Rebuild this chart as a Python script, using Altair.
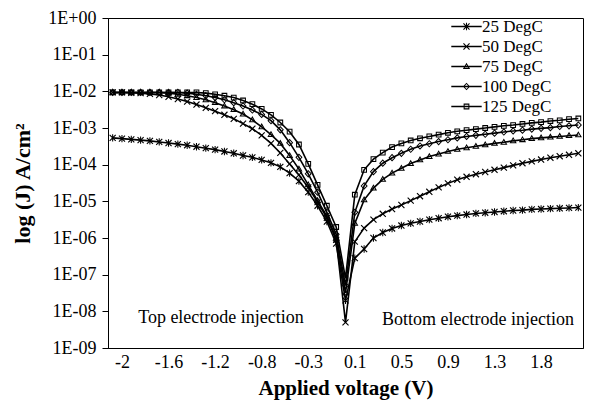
import json
import altair as alt
import pandas as pd

series_names = ["25 DegC", "50 DegC", "75 DegC", "100 DegC", "125 DegC"]

voltage = [-2.1, -2.016, -1.932, -1.848, -1.764, -1.68, -1.596, -1.512, -1.428, -1.344,
           -1.26, -1.176, -1.092, -1.008, -0.924, -0.84, -0.756, -0.672, -0.588, -0.504,
           -0.42, -0.336, -0.252, -0.168, -0.084, 0.0, 0.084, 0.168, 0.252, 0.336,
           0.42, 0.504, 0.588, 0.672, 0.756, 0.84, 0.924, 1.008, 1.092, 1.176,
           1.26, 1.344, 1.428, 1.512, 1.596, 1.68, 1.764, 1.848, 1.932, 2.016, 2.1]

# log10 of current density J (A/cm2)
log_j_25 = [-3.27, -3.29, -3.31, -3.33, -3.35, -3.38, -3.41, -3.44, -3.47, -3.51,
            -3.55, -3.59, -3.64, -3.69, -3.75, -3.80, -3.87, -3.95, -4.06, -4.23,
            -4.45, -4.75, -5.12, -5.55, -6.15, -7.70,
            -6.55, -6.30, -6.00, -5.85, -5.74, -5.66, -5.60, -5.55, -5.50, -5.46,
            -5.42, -5.39, -5.36, -5.33, -5.31, -5.29, -5.27, -5.25, -5.24, -5.22,
            -5.21, -5.20, -5.19, -5.18, -5.17]
log_j_50 = [-2.03, -2.03, -2.04, -2.05, -2.07, -2.10, -2.15, -2.21, -2.28, -2.36,
            -2.45, -2.54, -2.64, -2.75, -2.88, -3.02, -3.20, -3.42, -3.68, -3.98,
            -4.28, -4.62, -5.02, -5.45, -6.05, -8.30,
            -6.10, -5.73, -5.50, -5.34, -5.21, -5.10, -4.98, -4.86, -4.74, -4.62,
            -4.51, -4.41, -4.33, -4.26, -4.20, -4.14, -4.08, -4.02, -3.96, -3.91,
            -3.86, -3.81, -3.77, -3.73, -3.69]
log_j_75 = [-2.03, -2.03, -2.03, -2.03, -2.03, -2.03, -2.05, -2.08, -2.12, -2.17,
            -2.23, -2.31, -2.40, -2.50, -2.62, -2.78, -2.97, -3.18, -3.42, -3.75,
            -4.12, -4.55, -4.98, -5.40, -6.00, -7.50,
            -5.60, -4.96, -4.64, -4.40, -4.23, -4.10, -3.97, -3.87, -3.78, -3.71,
            -3.64, -3.58, -3.54, -3.50, -3.46, -3.42, -3.39, -3.35, -3.32, -3.29,
            -3.27, -3.25, -3.23, -3.21, -3.19]
log_j_100 = [-2.03, -2.03, -2.03, -2.03, -2.03, -2.03, -2.03, -2.03, -2.05, -2.08,
             -2.12, -2.17, -2.23, -2.31, -2.40, -2.51, -2.63, -2.80, -3.05, -3.40,
             -3.80, -4.25, -4.75, -5.30, -5.90, -7.30,
             -5.30, -4.58, -4.19, -3.96, -3.81, -3.69, -3.58, -3.49, -3.43, -3.37,
             -3.32, -3.27, -3.23, -3.20, -3.17, -3.14, -3.11, -3.08, -3.06, -3.03,
             -3.01, -2.99, -2.96, -2.94, -2.92]
log_j_125 = [-2.03, -2.03, -2.03, -2.03, -2.03, -2.03, -2.03, -2.03, -2.03, -2.03,
             -2.05, -2.08, -2.12, -2.17, -2.25, -2.35, -2.48, -2.64, -2.85, -3.10,
             -3.45, -3.98, -4.55, -5.12, -5.70, -7.10,
             -4.82, -4.14, -3.85, -3.67, -3.52, -3.42, -3.34, -3.28, -3.23, -3.18,
             -3.13, -3.09, -3.06, -3.03, -3.00, -2.97, -2.94, -2.92, -2.89, -2.86,
             -2.84, -2.81, -2.79, -2.76, -2.74]

tick_voltage = [-2.016, -1.596, -1.176, -0.756, -0.336, 0.084, 0.504, 0.924, 1.344, 1.764]
tick_labels = ["-2", "-1.6", "-1.2", "-0.8", "-0.3", "0.1", "0.5", "0.9", "1.3", "1.8"]
y_ticks = [1, 1e-1, 1e-2, 1e-3, 1e-4, 1e-5, 1e-6, 1e-7, 1e-8, 1e-9]

annot_text = ["Top electrode injection", "Bottom electrode injection"]
annot_v = [-1.123, 1.195]
annot_j = [6.7e-9, 5.9e-9]

rows = []
for name, logs in zip(series_names, [log_j_25, log_j_50, log_j_75, log_j_100, log_j_125]):
    for v, lj in zip(voltage, logs):
        rows.append({"V": v, "J": 10 ** lj, "series": name, "series_l": name})
df = pd.DataFrame(rows)
annot_df = pd.DataFrame({"V": annot_v, "J": annot_j, "text": annot_text})

# marker outlines drawn as filled shapes (outer contour + reversed inner contour)
X_BARS = ("M-0.33,-0.43L0.43,0.33L0.33,0.43L-0.43,-0.33Z"
          "M0.43,-0.33L-0.33,0.43L-0.43,0.33L0.33,-0.43Z")
marker_paths = [
    X_BARS + "M-0.065,-0.46L0.065,-0.46L0.065,0.46L-0.065,0.46Z",
    X_BARS,
    "M0,-0.48L0.45,0.3L-0.45,0.3Z M0,-0.22L-0.225,0.17L0.225,0.17Z",
    "M0,-0.48L0.45,0L0,0.48L-0.45,0Z M0,-0.3L-0.28,0L0,0.3L0.28,0Z",
    "M-0.36,-0.36L0.36,-0.36L0.36,0.36L-0.36,0.36Z M-0.23,-0.23L-0.23,0.23L0.23,0.23L0.23,-0.23Z",
]
LEG_LINE = "M-1.9,-0.1L1.9,-0.1L1.9,0.1L-1.9,0.1Z "
legend_paths = [LEG_LINE + p for p in marker_paths]
SYM = 256

FONT = "Liberation Serif"

x_enc = alt.X(
    "V:Q",
    scale=alt.Scale(domain=[-2.142, 2.142], nice=False, zero=False),
    axis=alt.Axis(
        values=tick_voltage,
        labelExpr=f"{json.dumps(tick_labels)}[indexof({json.dumps(tick_voltage)}, datum.value)]",
        ticks=False, grid=False, labelPadding=5, labelFontSize=18,
        labelFlush=False, labelOverlap=False,
        title="Applied voltage (V)", titleFontSize=21, titleFontWeight="bold",
        titleY=40, titleBaseline="middle",
    ),
)
y_enc = alt.Y(
    "J:Q",
    scale=alt.Scale(type="log", domain=[1e-9, 1], nice=False),
    axis=alt.Axis(
        values=y_ticks,
        labelExpr="'1E' + (datum.value >= 1 ? '+00' : '-0' + round(-log(datum.value) / LN10))",
        tickSize=6, labelPadding=6, grid=False, labelFontSize=18,
        labelOverlap=False, labelFlush=False,
        title="log (J) A/cm²", titleFontSize=22, titleFontWeight="bold",
        titleX=-86, titleY=165, titleAngle=270, titleAlign="center", titleBaseline="middle",
    ),
)

lines = alt.Chart(df).mark_line(color="black", strokeWidth=1.6).encode(
    x=x_enc, y=y_enc, detail="series:N"
)

points = alt.Chart(df).mark_point(
    filled=True, color="black", strokeWidth=0, opacity=1, size=SYM
).encode(
    x=x_enc,
    y=y_enc,
    shape=alt.Shape("series:N", sort=series_names,
                    scale=alt.Scale(range=marker_paths), legend=None),
)

legend_layer = alt.Chart(df).mark_point(
    filled=True, color="black", strokeWidth=0, opacity=0, size=SYM
).encode(
    x=x_enc,
    y=y_enc,
    shape=alt.Shape(
        "series_l:N", sort=series_names,
        scale=alt.Scale(range=legend_paths),
        legend=alt.Legend(
            orient="none", legendX=350, legendY=0, title=None, symbolSize=SYM,
            symbolOpacity=1, symbolFillColor="black", symbolStrokeWidth=0,
            labelFont=FONT, labelFontSize=17, labelColor="black", rowPadding=2,
            padding=0, labelOffset=7, symbolOffset=0,
        ),
    ),
)

texts = alt.Chart(annot_df).mark_text(
    font=FONT, fontSize=18, align="center", baseline="middle", color="black"
).encode(x=x_enc, y=y_enc, text="text:N")

chart = alt.layer(lines, points, legend_layer, texts).resolve_scale(
    shape="independent"
).properties(
    width=475, height=330,
    padding={"left": 108, "top": 18, "right": 12, "bottom": 57},
    autosize=alt.AutoSizeParams(type="none"),
    background="white",
).configure_view(
    stroke="black", strokeWidth=1
).configure_axis(
    domainColor="black", tickColor="black", labelColor="black", titleColor="black",
    labelFont=FONT, titleFont=FONT, domainWidth=1, tickWidth=1,
)

chart.save("out.html", embed_options={"renderer": "svg", "actions": False})
